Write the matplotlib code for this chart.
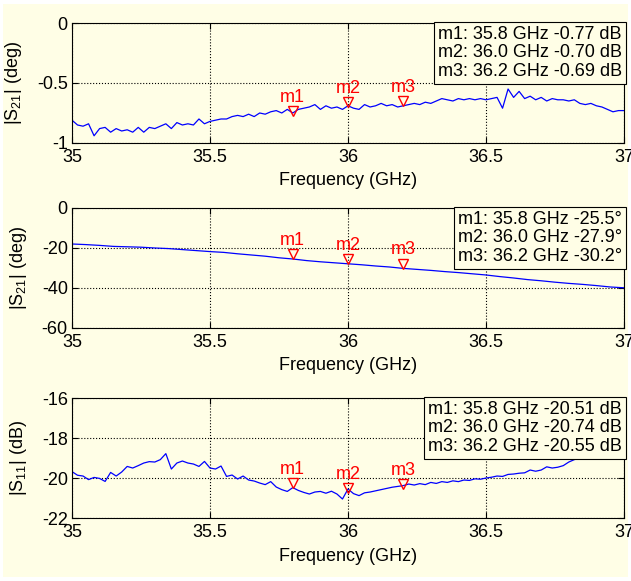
import numpy as np
import matplotlib
matplotlib.use('Agg')
import matplotlib.pyplot as plt
from matplotlib.patches import Rectangle
from matplotlib.transforms import offset_copy

plt.rcParams['font.family'] = ['Liberation Sans', 'DejaVu Sans']
plt.rcParams['font.size'] = 13

# Measured traces, 35-37 GHz
s21_mag = [-0.81, -0.85, -0.86, -0.84, -0.94, -0.88, -0.87, -0.91, -0.88, -0.90,
           -0.89, -0.91, -0.87, -0.91, -0.87, -0.88, -0.86, -0.84, -0.88, -0.83,
           -0.85, -0.84, -0.85, -0.80, -0.84, -0.82, -0.81, -0.80, -0.80, -0.78,
           -0.77, -0.78, -0.76, -0.78, -0.75, -0.76, -0.74, -0.73, -0.75, -0.72,
           -0.75, -0.72, -0.71,
           -0.70, -0.68, -0.72, -0.69, -0.71, -0.70, -0.72, -0.69, -0.71, -0.72,
           -0.68, -0.70, -0.69, -0.67, -0.69, -0.68, -0.70, -0.69, -0.68, -0.67,
           -0.68, -0.66, -0.67, -0.65, -0.63, -0.64, -0.65, -0.63, -0.64, -0.63,
           -0.64, -0.63, -0.64, -0.63, -0.62, -0.71, -0.55, -0.62, -0.57, -0.63,
           -0.61, -0.64, -0.62, -0.65, -0.63, -0.64, -0.64, -0.65, -0.64, -0.67,
           -0.68, -0.67, -0.69, -0.70, -0.72, -0.74, -0.73, -0.73]

s21_phase = [-18.0, -18.3, -18.7, -19.2, -19.4, -19.6, -20.0, -20.3, -20.8, -21.3,
             -21.8, -22.2, -22.9, -23.5, -24.1, -24.9, -25.5, -26.3, -26.9, -27.4,
             -27.9, -28.4, -29.0, -29.5, -30.2, -30.7, -31.2, -31.8, -32.3, -32.9,
             -33.5, -34.3, -35.0, -35.8, -36.4, -37.1, -37.7, -38.2, -38.8, -39.5,
             -39.9]

s11_mag = [-19.68, -19.86, -19.90, -20.08, -19.97, -20.02, -20.17, -19.72, -19.90, -19.70,
           -19.42, -19.50, -19.38, -19.25, -19.18, -19.20, -19.08, -18.78, -19.55, -19.25,
           -19.15, -19.25, -19.30, -19.42, -19.17, -19.50, -19.55, -19.40, -19.92, -19.85,
           -20.05, -19.90, -20.10, -20.15, -20.25, -20.33, -20.18, -20.45, -20.58, -20.67,
           -20.48, -20.62, -20.72,
           -20.80, -20.70, -20.67, -20.76, -20.66, -20.80, -21.05, -20.55, -20.78, -20.88,
           -20.74, -20.70, -20.64, -20.58, -20.52, -20.46, -20.42, -20.38, -20.30, -20.35,
           -20.28, -20.33, -20.22, -20.27, -20.18, -20.22, -20.14, -20.18, -20.10, -20.12,
           -20.04, -20.06, -20.00, -19.96, -19.90, -19.92, -19.82, -19.80, -19.76, -19.74,
           -19.60, -19.66, -19.60, -19.44, -19.50, -19.46, -19.38, -19.20, -19.08, -19.00,
           -18.95, -18.88, -18.82, -18.76, -18.70, -18.64, -18.60, -18.55]

# Markers
marker_names = ['m1', 'm2', 'm3']
marker_freq = [35.8, 36.0, 36.2]
mag_marker = [-0.77, -0.70, -0.69]
phase_marker = [-25.5, -27.9, -30.2]
s11_marker = [-20.51, -20.74, -20.55]

xticks = [35, 35.5, 36, 36.5, 37]
xticklabels = ['35', '35.5', '36', '36.5', '37']

bg = '#fffee6'

fig = plt.figure(figsize=(6.31, 5.81), dpi=100, facecolor='white')
fig.patches.append(Rectangle((3 / 631, 4 / 581), 625 / 631, 573 / 581,
                             transform=fig.transFigure, facecolor=bg,
                             edgecolor='none', zorder=-10))

panels = [
    (s21_mag, mag_marker, '|S$_{\\mathregular{21}}$| (deg)', (-1, 0), [-1, -0.5, 0],
     ['-1', '-0.5', '0'], '{:.2f} dB', 0.7539),
    (s21_phase, phase_marker, '|S$_{\\mathregular{21}}$| (deg)', (-60, 0), [-60, -40, -20, 0],
     ['-60', '-40', '-20', '0'], '{:.1f}°', 0.4355),
    (s11_mag, s11_marker, '|S$_{\\mathregular{11}}$| (dB)', (-22, -16), [-22, -20, -18, -16],
     ['-22', '-20', '-18', '-16'], '{:.2f} dB', 0.1084),
]

for data, mvals, ylabel, ylim, yticks, yticklabels, fmt, bottom in panels:
    ax = fig.add_axes([0.1141, bottom, 0.8748, 0.2065])
    ax.set_facecolor(bg)
    freq = np.linspace(35, 37, len(data))
    ax.plot(freq, data, color='blue', lw=0.9)

    ax.set_xlim(35, 37)
    ax.set_ylim(*ylim)
    ax.set_xticks(xticks)
    ax.set_xticklabels(xticklabels)
    ax.set_yticks(yticks)
    ax.set_yticklabels(yticklabels)
    ax.tick_params(direction='in', length=4, width=0.8, top=True, right=True, labelsize=13)
    ax.tick_params(axis='x', pad=4)
    ax.tick_params(axis='y', pad=3)
    ax.grid(True, color='black', linestyle=':', linewidth=0.8)
    for sp in ax.spines.values():
        sp.set_linewidth(0.8)
    ax.set_xlabel('Frequency (GHz)', fontsize=13, labelpad=5)
    ax.set_ylabel(ylabel, fontsize=13, labelpad=9)

    # marker triangles with labels
    tri = offset_copy(ax.transData, fig=fig, y=3.5, units='points')
    for name, f, v in zip(marker_names, marker_freq, mvals):
        ax.plot([f], [v], marker='v', markersize=7, markerfacecolor='none',
                markeredgecolor='red', markeredgewidth=1, linestyle='none', transform=tri)
        ax.annotate(name, (f, v), xytext=(0, 10), textcoords='offset points',
                    ha='center', va='baseline', color='red', fontsize=13)

    lines = ['{}: {:.1f} GHz {}'.format(n, f, fmt.format(v))
             for n, f, v in zip(marker_names, marker_freq, mvals)]
    ax.text(0.996, 0.975, '\n'.join(lines), transform=ax.transAxes, ha='right', va='top',
            fontsize=13, linespacing=1.1, zorder=5,
            bbox=dict(boxstyle='square,pad=0.22', facecolor=bg, edgecolor='black', linewidth=0.8))

fig.savefig('out.png', dpi=100, facecolor=fig.get_facecolor())
